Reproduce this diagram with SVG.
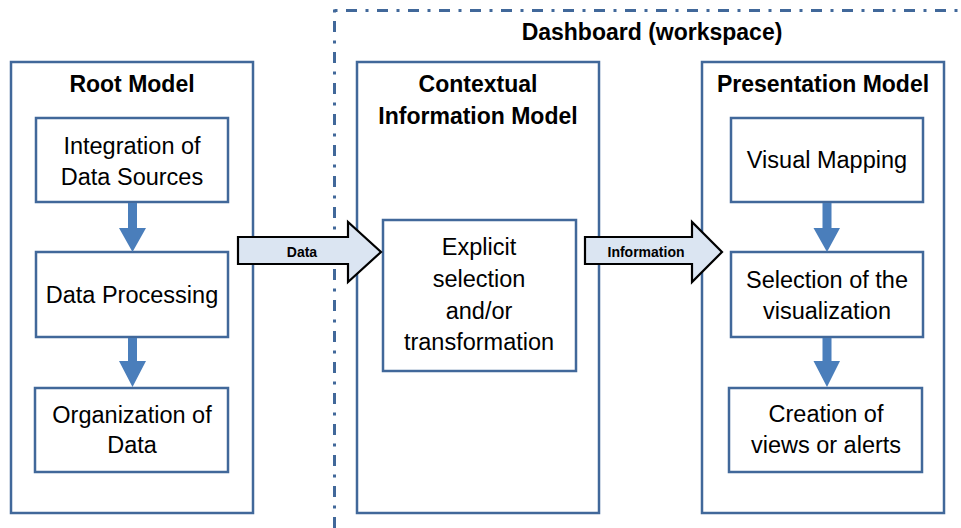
<svg xmlns="http://www.w3.org/2000/svg" width="961" height="528" viewBox="0 0 961 528">
<style>
.outer{fill:#fff;stroke:#41689a;stroke-width:2.5}
.inner{fill:#fff;stroke:#41689a;stroke-width:2.5}
.title{font-family:"Liberation Sans",Arial,sans-serif;font-weight:bold;font-size:23px;fill:#000;text-anchor:middle}
.txt{font-family:"Liberation Sans",Arial,sans-serif;font-size:23.5px;fill:#000;text-anchor:middle}
.lbl{font-family:"Liberation Sans",Arial,sans-serif;font-weight:bold;font-size:14px;fill:#000;text-anchor:middle}
.dash{fill:none;stroke:#41689a;stroke-width:3;stroke-dasharray:3 8.5 11 8.5}
.blue{fill:#4a7ebb}
.big{fill:#dbe5f2;stroke:#000;stroke-width:2.2;stroke-linejoin:miter}
</style>
<rect width="961" height="528" fill="#fff"/>
<g id="workspace">
<path class="dash" d="M334.5 9.5 V528"/>
<path class="dash" d="M334.5 10.5 H961"/>
<text class="title" x="652" y="40">Dashboard (workspace)</text>
</g>
<g id="root-model">
<rect class="outer" x="11" y="62" width="242" height="451"/>
<text class="title" x="132" y="92">Root Model</text>
</g>
<g id="integration">
<rect class="inner" x="36" y="118" width="192" height="84"/>
<text class="txt" x="132" y="154">Integration of</text>
<text class="txt" x="132" y="185">Data Sources</text>
</g>
<g id="processing">
<rect class="inner" x="36" y="252" width="192" height="85"/>
<text class="txt" x="132" y="303">Data Processing</text>
</g>
<g id="organization">
<rect class="inner" x="35" y="388" width="193" height="84"/>
<text class="txt" x="132" y="423">Organization of</text>
<text class="txt" x="132" y="453">Data</text>
</g>
<g id="contextual-model">
<rect class="outer" x="357" y="62" width="242" height="451"/>
<text class="title" x="478" y="92">Contextual</text>
<text class="title" x="478" y="124">Information Model</text>
</g>
<g id="explicit">
<rect class="inner" x="383" y="220" width="193" height="151"/>
<text class="txt" x="479" y="255">Explicit</text>
<text class="txt" x="479" y="287">selection</text>
<text class="txt" x="479" y="319">and/or</text>
<text class="txt" x="479" y="350">transformation</text>
</g>
<g id="presentation-model">
<rect class="outer" x="702" y="62" width="242" height="451"/>
<text class="title" x="823" y="92">Presentation Model</text>
</g>
<g id="visual-mapping">
<rect class="inner" x="731" y="118" width="192" height="84"/>
<text class="txt" x="827" y="168">Visual Mapping</text>
</g>
<g id="selection">
<rect class="inner" x="731" y="252" width="192" height="85"/>
<text class="txt" x="827" y="288">Selection of the</text>
<text class="txt" x="827" y="319">visualization</text>
</g>
<g id="creation">
<rect class="inner" x="729" y="388" width="193" height="84"/>
<text class="txt" x="826" y="422">Creation of</text>
<text class="txt" x="826" y="453">views or alerts</text>
</g>
<g id="connectors">
<path class="blue" d="M128 203 H137 V228 H146 L132.5 252 L119 228 H128 Z"/>
<path class="blue" d="M128 338 H137 V361 H146 L132.5 387 L119 361 H128 Z"/>
<path class="blue" d="M822.5 203 H831.5 V228 H840 L827 252 L813.5 228 H822.5 Z"/>
<path class="blue" d="M822.5 338 H831.5 V361 H840 L827 387 L813.5 361 H822.5 Z"/>
<path class="big" d="M238 237 H348 V222 L381 252 L348 282 V264 H238 Z"/>
<text class="lbl" x="302" y="257">Data</text>
<path class="big" d="M585 237 H692 V222 L722 252 L692 282 V264 H585 Z"/>
<text class="lbl" x="646" y="257">Information</text>
</g>
</svg>
